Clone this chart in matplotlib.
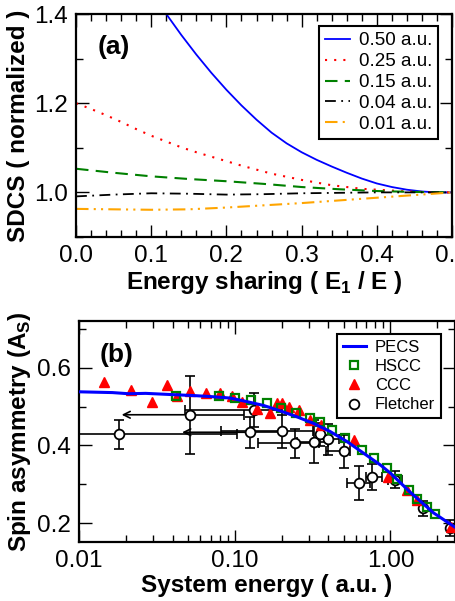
import numpy as np
import matplotlib
matplotlib.use("Agg")
import matplotlib.pyplot as plt
from matplotlib.ticker import MultipleLocator, LogLocator, NullFormatter

plt.rcParams['font.family'] = ['Liberation Sans', 'DejaVu Sans']
plt.rcParams['mathtext.fontset'] = 'custom'
plt.rcParams['mathtext.rm'] = 'Liberation Sans'
plt.rcParams['mathtext.bf'] = 'Liberation Sans:bold'

# ---- panel (a): SDCS vs energy sharing ----
share = [0.00, 0.05, 0.10, 0.15, 0.20, 0.25, 0.30, 0.35, 0.40, 0.45, 0.50]
share_fine = [0.00, 0.02, 0.04, 0.06, 0.08, 0.10, 0.12, 0.14, 0.16, 0.18, 0.20, 0.22, 0.24,
              0.26, 0.28, 0.30, 0.32, 0.34, 0.36, 0.38, 0.40, 0.42, 0.44, 0.46, 0.48, 0.50]
share_050 = [0.10, 0.12, 0.14, 0.16, 0.18, 0.20, 0.22, 0.24, 0.26, 0.28, 0.30, 0.32, 0.34,
             0.36, 0.38, 0.40, 0.42, 0.44, 0.46, 0.48, 0.50]
sdcs_050 = [1.45, 1.400, 1.353, 1.309, 1.268, 1.230, 1.195, 1.163, 1.134, 1.110, 1.090,
            1.073, 1.058, 1.044, 1.031, 1.020, 1.012, 1.006, 1.002, 1.0, 1.0]
sdcs_025 = [1.200, 1.187, 1.173, 1.158, 1.142, 1.127, 1.114, 1.101, 1.090, 1.080, 1.070,
            1.060, 1.051, 1.042, 1.035, 1.028, 1.022, 1.016, 1.012, 1.008, 1.006, 1.004,
            1.002, 1.001, 1.0, 1.0]
sdcs_015 = [1.053, 1.044, 1.036, 1.030, 1.025, 1.019, 1.012, 1.007, 1.003, 1.001, 1.0]
sdcs_004 = [0.991, 0.995, 0.998, 0.997, 0.995, 0.996, 0.998, 0.999, 1.0, 1.0, 1.0]
sdcs_001 = [0.963, 0.962, 0.961, 0.962, 0.966, 0.971, 0.976, 0.982, 0.988, 0.994, 1.0]

# ---- panel (b): spin asymmetry vs system energy ----
pecs_e = [0.010, 0.0128, 0.0164, 0.0209, 0.0268, 0.0343, 0.044, 0.0563, 0.0686, 0.0934,
          0.119, 0.153, 0.196, 0.25, 0.32, 0.41, 0.527, 0.674, 0.862, 1.0, 1.34, 1.89, 2.6]
pecs_a = [0.538, 0.537, 0.536, 0.533, 0.534, 0.532, 0.530, 0.528, 0.526, 0.522, 0.513,
          0.503, 0.489, 0.474, 0.457, 0.436, 0.410, 0.380, 0.350, 0.329, 0.280, 0.227, 0.190]

hscc_e = [0.042, 0.079, 0.101, 0.127, 0.161, 0.198, 0.248, 0.306, 0.355, 0.422, 0.514,
          0.658, 0.781, 0.952, 1.104, 1.312, 1.486, 1.706, 1.947]
hscc_a = [0.526, 0.526, 0.522, 0.517, 0.509, 0.496, 0.483, 0.470, 0.460, 0.440, 0.419,
          0.389, 0.368, 0.342, 0.314, 0.285, 0.263, 0.242, 0.225]

ccc_e = [0.0145, 0.0217, 0.0294, 0.0366, 0.0429, 0.0517, 0.0653, 0.0809, 0.0957, 0.111,
         0.140, 0.169, 0.188, 0.201, 0.222, 0.259, 0.306, 0.36, 0.58, 0.97, 1.28, 1.48, 2.45]
ccc_a = [0.564, 0.543, 0.513, 0.556, 0.526, 0.541, 0.536, 0.534, 0.526, 0.513, 0.493,
         0.483, 0.509, 0.510, 0.500, 0.492, 0.466, 0.453, 0.415, 0.319, 0.285, 0.261, 0.190]

fl_e = [0.0182, 0.0517, 0.134, 0.126, 0.201, 0.245, 0.321, 0.351, 0.397, 0.501, 0.625,
        0.762, 1.077, 1.62, 2.41]
fl_a = [0.429, 0.479, 0.491, 0.434, 0.436, 0.406, 0.410, 0.429, 0.416, 0.385, 0.304,
        0.319, 0.312, 0.239, 0.188]
fl_da = [0.037, 0.100, 0.043, 0.040, 0.043, 0.037, 0.056, 0.030, 0.040, 0.043, 0.044,
         0.033, 0.022, 0.019, 0.020]
fl_lo = [0.008, 0.0188, 0.048, 0.046, 0.0815, 0.142, 0.25, 0.351, 0.34, 0.387, 0.527,
         0.70, 0.97, 1.62, 2.41]
fl_hi = [0.103, 0.115, 0.20, 0.20, 0.32, 0.35, 0.40, 0.351, 0.47, 0.55, 0.745,
         0.88, 1.19, 1.62, 2.41]
fl_arrow = [False, True, False, True, False, False, False, False, False, False, False,
            False, False, False, False]

fig = plt.figure(figsize=(4.56, 6.01), dpi=100)
ax1 = fig.add_axes([0.1667, 0.6057, 0.8246, 0.371])
ax2 = fig.add_axes([0.1732, 0.0982, 0.8246, 0.3677])

tick_kw = dict(direction='in', top=True, right=True, labelsize=17.5, width=1.0)
for ax in (ax1, ax2):
    for s in ax.spines.values():
        s.set_linewidth(1.6)
    ax.tick_params(which='major', length=9, pad=6, **tick_kw)
    ax.tick_params(which='minor', length=5, **tick_kw)

# panel (a)
ax1.plot(share_050, sdcs_050, color='#0000ff', lw=1.3, label='0.50 a.u.')
ax1.plot(share_fine, sdcs_025, color='#ff0000', lw=1.5, ls=(0, (1, 3.4)), label='0.25 a.u.')
ax1.plot(share, sdcs_015, color='#008000', lw=1.5, ls=(0, (6, 3.5)), label='0.15 a.u.')
ax1.plot(share, sdcs_004, color='black', lw=1.3, ls=(0, (6, 3, 1, 3)), label='0.04 a.u.')
ax1.plot(share, sdcs_001, color='#ffa500', lw=1.5, ls=(0, (6, 2.5, 1, 2.5, 1, 2.5)), label='0.01 a.u.')
ax1.set_xlim(0, 0.5)
ax1.set_ylim(0.9, 1.4)
ax1.xaxis.set_major_locator(MultipleLocator(0.1))
ax1.xaxis.set_minor_locator(MultipleLocator(0.02))
ax1.yaxis.set_minor_locator(MultipleLocator(0.1))
ax1.set_yticks([1.0, 1.2, 1.4])
ax1.set_xlabel(r'Energy sharing ( E$_{\mathbf{1}}$ / E )', fontsize=17.5, fontweight='bold', labelpad=1)
ax1.set_ylabel('SDCS ( normalized )', fontsize=17.5, fontweight='bold', labelpad=3)
ax1.text(0.058, 0.82, '(a)', transform=ax1.transAxes, fontsize=19, fontweight='bold')
leg1 = ax1.legend(loc='upper right', bbox_to_anchor=(0.963, 0.945), fontsize=13.5,
                  fancybox=False, edgecolor='black', framealpha=1, handlelength=1.35,
                  handletextpad=0.45, labelspacing=0.2, borderpad=0.32, borderaxespad=0)
leg1.get_frame().set_linewidth(1.5)

# panel (b)
ax2.set_xscale('log')
for e, a, da, lo, hi, arr in zip(fl_e, fl_a, fl_da, fl_lo, fl_hi, fl_arrow):
    if arr:
        ax2.errorbar([e], [a], yerr=[da], xerr=[[0], [hi - e]], fmt='none', ecolor='black',
                     elinewidth=1.2, capsize=3.5, capthick=1.2, zorder=1)
        ax2.annotate('', xy=(lo, a), xytext=(e, a),
                     arrowprops=dict(arrowstyle='->', color='black', lw=1.2,
                                     shrinkA=0, shrinkB=0, mutation_scale=12), zorder=1)
    else:
        ax2.errorbar([e], [a], yerr=[da], xerr=[[e - lo], [hi - e]], fmt='none', ecolor='black',
                     elinewidth=1.2, capsize=3.5, capthick=1.2, zorder=1)
ax2.plot(fl_e, fl_a, 'o', ms=7, mfc='white', mec='black', mew=1.3, ls='none', zorder=2,
         label='Fletcher')
ax2.plot(ccc_e, ccc_a, '^', ms=7.5, color='#ff0000', ls='none', zorder=3, label='CCC')
ax2.plot(hscc_e, hscc_a, 's', ms=6, mfc='none', mec='#008000', mew=1.6, ls='none', zorder=4,
         label='HSCC')
ax2.plot(pecs_e, pecs_a, color='#0000ff', lw=2.2, zorder=5, label='PECS')
ax2.set_xlim(0.01, 2.6)
ax2.set_ylim(0.152, 0.72)
ax2.xaxis.set_major_locator(LogLocator(base=10))
ax2.xaxis.set_minor_locator(LogLocator(base=10, subs=np.arange(2, 10)))
ax2.xaxis.set_minor_formatter(NullFormatter())
ax2.set_xticks([0.01, 0.1, 1.0])
ax2.set_xticklabels(['0.01', '0.10', '1.00'])
ax2.set_yticks([0.2, 0.4, 0.6])
ax2.yaxis.set_minor_locator(MultipleLocator(0.1))
ax2.set_xlabel('System energy ( a.u. )', fontsize=17.5, fontweight='bold', labelpad=1)
ax2.set_ylabel(r'Spin asymmetry (A$_{\mathbf{S}}$)', fontsize=17.5, fontweight='bold', labelpad=3)
ax2.text(0.055, 0.815, '(b)', transform=ax2.transAxes, fontsize=19, fontweight='bold')
h, l = ax2.get_legend_handles_labels()
order = [3, 2, 1, 0]
leg2 = ax2.legend([h[i] for i in order], [l[i] for i in order], loc='upper right',
                  bbox_to_anchor=(0.963, 0.941), fontsize=12, fancybox=False,
                  edgecolor='black', framealpha=1, handlelength=1.4, handletextpad=0.55,
                  labelspacing=0.25, borderpad=0.35, borderaxespad=0)
leg2.get_frame().set_linewidth(1.5)

fig.savefig('out.png', dpi=100)
